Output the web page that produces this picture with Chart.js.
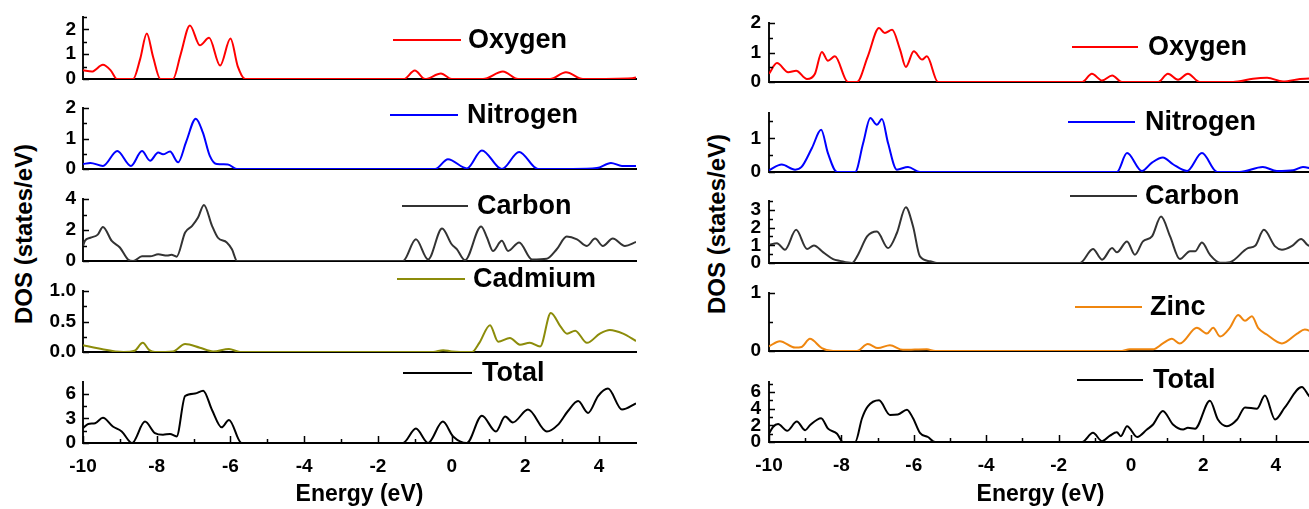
<!DOCTYPE html>
<html>
<head>
<meta charset="utf-8">
<script src="https://cdn.jsdelivr.net/npm/chart.js@4.4.0/dist/chart.umd.min.js"></script>
<style>
html, body { margin: 0; padding: 0; background: #fff; width: 1309px; height: 509px; overflow: hidden; position: relative; }
canvas { position: absolute; }
.ytitle { position: absolute; font: bold 24px 'Liberation Sans', Arial, sans-serif; white-space: nowrap; transform: translate(-50%, -50%) rotate(-90deg); color: #000; }
</style>
</head>
<body>
<div class="ytitle" style="left:24px;top:234px">DOS (states/eV)</div>
<div class="ytitle" style="left:717px;top:224px">DOS (states/eV)</div>
<script>
// energy (eV), DOS (states/eV) pairs
// left panel (Cd)
const oxyL = [[-10,0.35],[-9.76,0.3],[-9.46,0.57],[-9.25,0.35],[-9.08,0],[-8.64,0],[-8.45,0.8],[-8.27,1.83],[-8.1,0.9],[-7.9,0],[-7.56,0],[-7.35,1.0],[-7.1,2.16],[-6.83,1.36],[-6.58,1.66],[-6.28,0.54],[-6.0,1.63],[-5.8,0.5],[-5.6,0],[-1.3,0],[-1.0,0.34],[-0.72,0],[-0.29,0.22],[0,0],[0.85,0],[1.39,0.3],[1.8,0],[2.67,0],[3.1,0.27],[3.56,0],[4.9,0.03],[5,0.06]]
const nitL = [[-10,0.16],[-9.8,0.2],[-9.46,0.1],[-9.07,0.59],[-8.7,0.1],[-8.4,0.59],[-8.18,0.27],[-7.96,0.54],[-7.83,0.48],[-7.64,0.57],[-7.42,0.22],[-7.2,0.9],[-6.94,1.65],[-6.75,1.2],[-6.56,0.43],[-6.37,0.16],[-6.07,0.15],[-5.83,0],[-0.45,0],[-0.1,0.32],[0.41,0.02],[0.82,0.61],[1.36,0],[1.83,0.56],[2.34,0],[3.29,0],[3.94,0.03],[4.32,0.2],[4.62,0.1],[5,0.1]]
const carL = [[-10,0.97],[-9.95,1.3],[-9.8,1.5],[-9.6,1.7],[-9.46,2.2],[-9.22,1.3],[-9.0,0.87],[-8.78,0.1],[-8.64,0],[-8.4,0.3],[-8.18,0.3],[-7.96,0.43],[-7.72,0.35],[-7.6,0.4],[-7.46,0.28],[-7.23,1.84],[-7.04,2.27],[-6.88,2.8],[-6.72,3.62],[-6.5,2.27],[-6.34,1.5],[-6.1,1.2],[-5.96,0.76],[-5.82,0],[-1.32,0],[-0.97,1.4],[-0.64,0.1],[-0.26,2.1],[0,1.08],[0.14,0.76],[0.36,0.05],[0.8,2.23],[0.96,1.5],[1.12,0.65],[1.36,1.3],[1.53,0.65],[1.83,1.2],[2.18,0.1],[2.58,0.15],[2.85,0.76],[3.12,1.58],[3.4,1.4],[3.67,0.97],[3.89,1.45],[4.1,0.97],[4.37,1.45],[4.7,0.97],[5,1.23]]
const cdL = [[-10,0.11],[-9.6,0.06],[-8.9,0],[-8.6,0.02],[-8.38,0.15],[-8.2,0.03],[-8.05,0],[-7.56,0.01],[-7.23,0.13],[-6.83,0.07],[-6.47,0.01],[-6.04,0.05],[-5.74,0],[-0.5,0],[-0.23,0.03],[0,0.01],[0.55,0],[0.75,0.15],[1.04,0.44],[1.26,0.17],[1.58,0.23],[1.85,0.12],[2.12,0.15],[2.4,0.09],[2.69,0.64],[2.95,0.42],[3.13,0.3],[3.35,0.35],[3.67,0.15],[4.02,0.3],[4.29,0.36],[4.65,0.3],[5,0.18]]
const totL = [[-10,1.8],[-9.86,2.3],[-9.67,2.4],[-9.46,3.05],[-9.19,2.0],[-8.95,1.4],[-8.67,0],[-8.32,2.6],[-8.05,1.2],[-7.83,1.0],[-7.64,1.1],[-7.46,0.8],[-7.23,5.7],[-6.96,6.0],[-6.74,6.35],[-6.5,4.0],[-6.24,1.9],[-6.04,2.8],[-5.7,0],[-1.32,0],[-0.97,1.75],[-0.64,0],[-0.24,2.6],[0.04,0.8],[0.41,0],[0.82,3.3],[1.2,1.4],[1.45,3.2],[1.66,2.5],[2.07,4.05],[2.58,1.4],[2.88,2.2],[3.15,3.85],[3.43,5.1],[3.7,3.65],[3.97,5.7],[4.24,6.6],[4.62,4.05],[5,4.8]]
// right panel (Zn)
const oxyR = [[-10,0.28],[-9.78,0.64],[-9.47,0.33],[-9.25,0.38],[-8.95,0.1],[-8.73,0.28],[-8.54,1.02],[-8.37,0.72],[-8.18,0.87],[-7.82,0],[-7.57,0],[-7.27,0.87],[-6.96,1.83],[-6.8,1.66],[-6.6,1.77],[-6.38,1.1],[-6.22,0.51],[-6.0,1.04],[-5.77,0.76],[-5.64,0.87],[-5.33,0],[-1.35,0],[-1.08,0.28],[-0.8,0.05],[-0.52,0.22],[-0.25,0],[0.75,0],[1.02,0.28],[1.3,0.08],[1.57,0.28],[1.9,0],[2.82,0],[3.37,0.11],[3.76,0.14],[4.2,0.02],[4.67,0.1],[4.92,0.12],[5,0.12]]
const nitR = [[-10,0.05],[-9.65,0.22],[-9.28,0.07],[-9.1,0.15],[-8.81,0.72],[-8.56,1.25],[-8.37,0.55],[-8.12,0],[-7.62,0],[-7.4,0.85],[-7.2,1.6],[-7.02,1.4],[-6.88,1.57],[-6.71,0.85],[-6.47,0.07],[-6.16,0.15],[-5.83,0],[-0.39,0],[-0.11,0.56],[0.3,0.03],[0.58,0.28],[0.88,0.43],[1.16,0.23],[1.55,0.03],[1.96,0.56],[2.38,0],[3.0,0],[3.64,0.15],[4.03,0.03],[4.48,0.05],[4.75,0.15],[5,0.1]]
const carR = [[-10,1.03],[-9.78,1.12],[-9.56,0.75],[-9.25,1.87],[-8.95,0.79],[-8.76,0.99],[-8.5,0.6],[-8.23,0.22],[-8.04,0.12],[-7.71,0],[-7.54,0.47],[-7.29,1.5],[-7.02,1.78],[-6.71,0.84],[-6.47,1.68],[-6.22,3.15],[-6.02,2.06],[-5.83,0.37],[-5.55,0.1],[-5.36,0],[-1.41,0],[-1.05,0.79],[-0.8,0.19],[-0.52,0.84],[-0.39,0.6],[-0.11,1.22],[0.11,0.47],[0.33,1.22],[0.58,1.5],[0.83,2.62],[1.08,1.5],[1.35,0.22],[1.63,0.66],[1.77,0.66],[1.96,1.16],[2.18,0.47],[2.46,0.02],[2.73,0.05],[3.23,0.84],[3.43,0.97],[3.67,1.87],[3.98,0.94],[4.17,0.75],[4.45,0.97],[4.7,1.35],[4.92,0.97],[5,1.0]]
const znR = [[-10,0.08],[-9.7,0.17],[-9.28,0.06],[-9.1,0.07],[-8.87,0.21],[-8.54,0.05],[-8.23,0],[-7.57,0],[-7.27,0.12],[-6.99,0.05],[-6.66,0.1],[-6.3,0.02],[-5.64,0.03],[-5.41,0],[-0.3,0],[-0.03,0.03],[0.61,0.03],[0.88,0.13],[1.13,0.21],[1.35,0.13],[1.82,0.4],[2.1,0.3],[2.27,0.4],[2.46,0.25],[2.73,0.4],[2.96,0.62],[3.15,0.52],[3.34,0.6],[3.51,0.4],[3.76,0.28],[4.17,0.13],[4.59,0.3],[4.8,0.37],[5,0.33]]
const totR = [[-10,1.0],[-9.89,1.8],[-9.75,2.15],[-9.5,1.34],[-9.23,2.45],[-9.0,1.42],[-8.87,2.0],[-8.56,2.85],[-8.37,1.6],[-8.12,1.0],[-7.96,0],[-7.62,0],[-7.43,2.85],[-7.27,4.27],[-6.96,5.0],[-6.66,3.25],[-6.44,3.3],[-6.19,3.87],[-6.02,2.85],[-5.83,1.1],[-5.61,0.6],[-5.41,0],[-1.35,0],[-1.05,1.1],[-0.8,0.1],[-0.58,0.77],[-0.39,1.17],[-0.28,0.7],[-0.11,1.9],[0.17,0.6],[0.44,1.5],[0.61,2.1],[0.88,3.73],[1.16,2.1],[1.44,1.5],[1.57,1.7],[1.77,1.6],[2.18,4.95],[2.4,2.7],[2.65,1.9],[2.93,2.7],[3.15,4.15],[3.48,4.0],[3.7,5.57],[3.98,2.7],[4.25,4.15],[4.72,6.6],[4.92,5.5],[5,5.2]]

const energyMin = -10, energyMax = 5
const energyTicks = [-10, -8, -6, -4, -2, 0, 2, 4]
const xTitle = 'Energy (eV)'

const FONT = "'Liberation Sans', Arial, sans-serif"
Chart.defaults.font.family = FONT

// panel geometry (canvas left, width, y-axis width, right padding)
const panels = [
  { left: 0, width: 650, axisW: 83, padR: 14, tickPad: 7 },
  { left: 700, width: 620, axisW: 69, padR: 8, tickPad: 8 }
]

// one row per subplot; top/bottom = chart area in page px, leg = [line x0, line x1, dy, text x] from chart area corner
const plots = [
  { p: 0, top: 17, bottom: 79, max: 2.5, step: 1, data: oxyL, label: 'Oxygen', color: '#ff0000', leg: [310, 378, 23, 385] },
  { p: 0, top: 108, bottom: 169, max: 2, step: 1, data: nitL, label: 'Nitrogen', color: '#0000ff', leg: [307, 375, 7, 384] },
  { p: 0, top: 199, bottom: 261, max: 4, step: 2, data: carL, label: 'Carbon', color: '#333333', leg: [319, 385, 7, 394] },
  { p: 0, top: 291, bottom: 352, max: 1, step: 0.5, data: cdL, label: 'Cadmium', color: '#8c8c0a', leg: [314, 382, -12, 390], fixed: 1 },
  { p: 0, top: 382, bottom: 443, max: 7.4, step: 3, data: totL, label: 'Total', color: '#000000', leg: [320, 389, -9, 399], last: true },
  { p: 1, top: 23, bottom: 82, max: 2, step: 1, data: oxyR, label: 'Oxygen', color: '#ff0000', leg: [303, 369, 24, 379] },
  { p: 1, top: 113, bottom: 172, max: 1.75, step: 1, data: nitR, label: 'Nitrogen', color: '#0000ff', leg: [299, 366, 9, 376] },
  { p: 1, top: 201, bottom: 263, max: 3.5, step: 1, data: carR, label: 'Carbon', color: '#333333', leg: [301, 368, -5, 376] },
  { p: 1, top: 293, bottom: 351, max: 1, step: 1, data: znR, label: 'Zinc', color: '#ef860f', leg: [306, 373, 14, 381] },
  { p: 1, top: 382, bottom: 442, max: 7.2, step: 2, data: totR, label: 'Total', color: '#000000', leg: [308, 374, -2, 384], last: true }
]

// inward tick marks + in-plot label, drawn on top of each subplot
const innerTicks = {
  id: 'innerTicks',
  afterDraw(chart, args, o) {
    const { ctx, chartArea: a, scales: { x, y } } = chart
    ctx.save()
    ctx.strokeStyle = '#000'
    ctx.lineWidth = 1.5
    ctx.beginPath()
    for (let i = 0; i * o.step / 2 <= y.max + 1e-9; i++) {
      const py = Math.round(y.getPixelForValue(i * o.step / 2)) + 0.5
      ctx.moveTo(a.left, py)
      ctx.lineTo(a.left + (i % 2 === 0 ? 6 : 4), py)
    }
    if (o.last) {
      for (let v = energyMin; v < energyMax; v++) {
        const px = Math.round(x.getPixelForValue(v)) + 0.5
        ctx.moveTo(px, a.bottom)
        ctx.lineTo(px, a.bottom - (v % 2 === 0 ? 7 : 4))
      }
    }
    ctx.stroke()
    const [d0, d1, dy, tx] = o.leg
    ctx.strokeStyle = o.color
    ctx.lineWidth = 2
    ctx.beginPath()
    ctx.moveTo(a.left + d0, a.top + dy)
    ctx.lineTo(a.left + d1, a.top + dy)
    ctx.stroke()
    ctx.fillStyle = '#000'
    ctx.font = 'bold 27px ' + FONT
    ctx.textBaseline = 'middle'
    ctx.fillText(o.label, a.left + tx, a.top + dy + 1)
    ctx.restore()
  }
}

const PADTOP = 32, PADBOT = 16
plots.forEach(pl => {
  const pan = panels[pl.p]
  const cv = document.createElement('canvas')
  const top = pl.top - PADTOP
  const h = pl.last ? 509 - top : (pl.bottom - pl.top) + PADTOP + PADBOT
  cv.width = pan.width
  cv.height = h
  cv.style.left = pan.left + 'px'
  cv.style.top = top + 'px'
  cv.style.width = pan.width + 'px'
  cv.style.height = h + 'px'
  document.body.appendChild(cv)

  new Chart(cv, {
    type: 'line',
    data: {
      datasets: [{
        label: pl.label,
        data: pl.data.map(([e, v]) => ({ x: e, y: v })),
        borderColor: pl.color,
        borderWidth: 2,
        pointRadius: 0,
        fill: false,
        cubicInterpolationMode: 'monotone'
      }]
    },
    options: {
      responsive: false,
      animation: false,
      events: [],
      layout: { padding: { top: PADTOP, right: pan.padR, bottom: pl.last ? 0 : PADBOT, left: 0 } },
      plugins: {
        legend: { display: false },
        tooltip: { enabled: false },
        innerTicks: { step: pl.step, last: !!pl.last, leg: pl.leg, color: pl.color, label: pl.label }
      },
      scales: {
        x: {
          type: 'linear',
          min: energyMin,
          max: energyMax,
          afterFit: s => {
            s.height = pl.last ? 509 - pl.bottom : 0
            s.paddingLeft = 0
            s.paddingRight = 0
          },
          afterBuildTicks: s => { s.ticks = energyTicks.map(v => ({ value: v })) },
          grid: { display: true, drawOnChartArea: false, drawTicks: false },
          border: { display: true, color: '#000', width: 2 },
          ticks: {
            display: !!pl.last,
            color: '#000',
            padding: 12,
            maxRotation: 0,
            autoSkip: false,
            font: { size: 19, weight: 'bold' }
          },
          title: {
            display: !!pl.last,
            text: xTitle,
            color: '#000',
            font: { size: 23, weight: 'bold' },
            padding: { top: 0, bottom: 1 }
          }
        },
        y: {
          min: 0,
          max: pl.max,
          afterFit: s => {
            s.width = pan.axisW
            s.paddingTop = 0
            s.paddingBottom = 0
          },
          grid: { display: true, drawOnChartArea: false, drawTicks: false },
          border: { display: true, color: '#111', width: 2 },
          ticks: {
            stepSize: pl.step,
            includeBounds: false,
            autoSkip: false,
            color: '#000',
            padding: pan.tickPad,
            font: { size: 19, weight: 'bold' },
            callback: v => pl.fixed ? v.toFixed(pl.fixed) : String(v)
          }
        }
      }
    },
    plugins: [innerTicks]
  })
})
</script>
</body>
</html>
